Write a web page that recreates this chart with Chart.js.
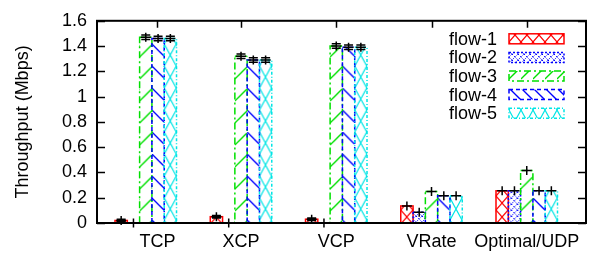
<!DOCTYPE html>
<html>
<head>
<meta charset="utf-8">
<script src="https://cdn.jsdelivr.net/npm/chart.js@4.4.0/dist/chart.umd.min.js"></script>
<style>
  html, body { margin: 0; padding: 0; background: #fff; }
</style>
</head>
<body>
<canvas id="throughputChart" width="589" height="253"></canvas>
<script>
const categories = ['TCP', 'XCP', 'VCP', 'VRate', 'Optimal/UDP'];
const flowNames = ['flow-1', 'flow-2', 'flow-3', 'flow-4', 'flow-5'];

// throughput in Mbps, one array per flow
const flow1 = [0.02, 0.05, 0.03, 0.135, 0.255];
const flow2 = [0, 0, 0, 0.085, 0.255];
const flow3 = [1.47, 1.32, 1.40, 0.25, 0.415];
const flow4 = [1.46, 1.29, 1.39, 0.215, 0.255];
const flow5 = [1.46, 1.29, 1.39, 0.215, 0.255];

// half width of the error bars
const err1 = [0.01, 0.01, 0.01, 0, 0];
const err2 = [0, 0, 0, 0, 0];
const err3 = [0.018, 0.018, 0.018, 0, 0];
const err4 = [0.018, 0.018, 0.018, 0, 0];
const err5 = [0.018, 0.018, 0.018, 0, 0];

const yTicks = [0, 0.2, 0.4, 0.6, 0.8, 1, 1.2, 1.4, 1.6];
const yTickLabels = ['0', '0.2', '0.4', '0.6', '0.8', '1', '1.2', '1.4', '1.6'];

const flows = [flow1, flow2, flow3, flow4, flow5];
const errors = [err1, err2, err3, err4, err5];

const colors = ['#ff0000', '#0000ff', '#00e000', '#0000ff', '#00e5e5'];
const dashes = [[], [2, 2], [7, 3, 2, 3], [4, 3], [3, 2, 1, 2]];
const BAR_W = 12.3;
const FAMILY = "'Liberation Sans', Arial, sans-serif";
const FONT = "18px " + FAMILY;

// gnuplot-like fill patterns
function makeTile(i) {
    const c = document.createElement('canvas');
    const g = c.getContext('2d');
    if (i === 0) {
        c.width = 12; c.height = 14;
        g.strokeStyle = colors[i]; g.lineWidth = 1.2;
        g.beginPath();
        g.moveTo(0, 0); g.lineTo(12, 14);
        g.moveTo(12, 0); g.lineTo(0, 14);
        g.stroke();
    } else if (i === 1) {
        c.width = 6; c.height = 6;
        g.strokeStyle = colors[i]; g.lineWidth = 1;
        g.setLineDash([1.5, 1.5]);
        g.beginPath();
        g.moveTo(3, 0); g.lineTo(6, 3); g.lineTo(3, 6); g.lineTo(0, 3); g.closePath();
        g.stroke();
    } else if (i === 2) {
        c.width = 12; c.height = 22;
        g.strokeStyle = colors[i]; g.lineWidth = 1.3;
        g.beginPath();
        g.moveTo(0, 13); g.lineTo(12, 1);
        g.stroke();
    } else if (i === 3) {
        c.width = 12; c.height = 22;
        g.strokeStyle = colors[i]; g.lineWidth = 1.3;
        g.beginPath();
        g.moveTo(0, 0); g.lineTo(12, 12);
        g.stroke();
    } else {
        c.width = 12; c.height = 22;
        g.strokeStyle = colors[i]; g.lineWidth = 1.2;
        g.beginPath();
        g.moveTo(0, 0); g.lineTo(12, 22);
        g.moveTo(12, 0); g.lineTo(0, 22);
        g.stroke();
    }
    return c;
}
const tiles = flows.map((f, i) => makeTile(i));
const patCtx = document.createElement('canvas').getContext('2d');

function patternAt(i, left) {
    const p = patCtx.createPattern(tiles[i], 'repeat');
    p.setTransform(new DOMMatrix().translate(left, 0));
    return p;
}

function barFill(i) {
    return function (c) {
        if (c.type !== 'data' || !c.chart.scales.x) return patternAt(i, 0);
        const left = c.chart.scales.x.getPixelForValue(c.dataIndex) + (i - 2.5) * BAR_W;
        return patternAt(i, left);
    };
}

const decor = {
    id: 'decor',
    afterDatasetsDraw(chart) {
        const ctx = chart.ctx;
        const ys = chart.scales.y;
        ctx.save();
        // dashed outlines
        chart.data.datasets.forEach((ds, i) => {
            const meta = chart.getDatasetMeta(i);
            meta.data.forEach((bar) => {
                const p = bar.getProps(['x', 'y', 'base', 'width'], true);
                if (Math.abs(p.base - p.y) < 0.5) return;
                ctx.strokeStyle = colors[i];
                ctx.lineWidth = 1.5;
                ctx.setLineDash(dashes[i]);
                ctx.strokeRect(p.x - p.width / 2, p.y, p.width, p.base - p.y);
            });
        });
        ctx.setLineDash([]);
        // error bars
        ctx.strokeStyle = '#000';
        ctx.lineWidth = 1.5;
        chart.data.datasets.forEach((ds, i) => {
            const meta = chart.getDatasetMeta(i);
            meta.data.forEach((bar, j) => {
                const v = flows[i][j];
                const e = errors[i][j];
                const x = bar.x;
                const yc = ys.getPixelForValue(v);
                const yt = ys.getPixelForValue(v + e);
                const yb = ys.getPixelForValue(v - e);
                ctx.beginPath();
                ctx.moveTo(x, Math.min(yt, yc - 4.5));
                ctx.lineTo(x, Math.max(yb, yc + 4.5));
                ctx.moveTo(x - 5, yc); ctx.lineTo(x + 5, yc);
                if (e > 0) {
                    ctx.moveTo(x - 4.5, yt); ctx.lineTo(x + 4.5, yt);
                    ctx.moveTo(x - 4.5, yb); ctx.lineTo(x + 4.5, yb);
                }
                ctx.stroke();
            });
        });
        ctx.restore();
    },
    afterDraw(chart) {
        const ctx = chart.ctx;
        const a = chart.chartArea;
        const ys = chart.scales.y;
        const xs = chart.scales.x;
        ctx.save();
        ctx.strokeStyle = '#000';
        ctx.lineWidth = 1.5;
        ctx.beginPath();
        ys.ticks.forEach(t => {
            const y = Math.round(ys.getPixelForValue(t.value)) + 0.5;
            ctx.moveTo(a.left, y); ctx.lineTo(a.left + 8, y);
            ctx.moveTo(a.right, y); ctx.lineTo(a.right - 8, y);
        });
        xs.ticks.forEach(t => {
            const x = Math.round(xs.getPixelForValue(t.value)) + 0.5;
            ctx.moveTo(x, a.top); ctx.lineTo(x, a.top + 7);
        });
        ctx.stroke();
        ctx.lineWidth = 2;
        ctx.strokeRect(a.left, a.top, a.right - a.left, a.bottom - a.top);

        // key box, top right
        ctx.font = FONT;
        ctx.textAlign = 'right';
        ctx.textBaseline = 'middle';
        ctx.fillStyle = '#000';
        flowNames.forEach((name, i) => {
            const yc = a.top + 18 + i * 18.6;
            ctx.fillText(name, a.right - 89, yc + 1);
            const sx = a.right - 77, sw = 55, sh = 10;
            ctx.fillStyle = patternAt(i, sx);
            ctx.fillRect(sx, yc - sh / 2, sw, sh);
            ctx.strokeStyle = colors[i];
            ctx.lineWidth = 1.5;
            ctx.setLineDash(dashes[i]);
            ctx.strokeRect(sx, yc - sh / 2, sw, sh);
            ctx.setLineDash([]);
            ctx.fillStyle = '#000';
        });
        ctx.restore();
    }
};

const ctx = document.getElementById('throughputChart').getContext('2d');
const myChart = new Chart(ctx, {
    type: 'bar',
    data: {
        datasets: flows.map((vals, i) => ({
            label: flowNames[i],
            data: vals.map((v, j) => ({ x: j, y: v })),
            backgroundColor: barFill(i),
            borderWidth: 0,
            barThickness: BAR_W
        }))
    },
    options: {
        responsive: false,
        animation: false,
        devicePixelRatio: 1,
        layout: { padding: { left: 0, right: 3, top: 14, bottom: 0 } },
        scales: {
            x: {
                type: 'linear',
                min: -0.512,
                max: 4.622,
                offset: false,
                grid: { display: false, drawTicks: false },
                border: { display: false },
                afterBuildTicks: (s) => { s.ticks = [0.123, 1, 2, 3, 4].map(v => ({ value: v })); },
                afterFit: (s) => { s.height = 30; },
                ticks: {
                    autoSkip: false,
                    maxRotation: 0,
                    minRotation: 0,
                    padding: 8,
                    color: '#000',
                    font: { family: FAMILY, size: 18 },
                    callback: (v, i) => categories[i]
                }
            },
            y: {
                min: 0,
                max: 1.6,
                grid: { display: false, drawTicks: false },
                border: { display: false },
                afterBuildTicks: (s) => { s.ticks = yTicks.map(v => ({ value: v })); },
                afterFit: (s) => { s.width = 97; },
                ticks: {
                    padding: 10,
                    color: '#000',
                    font: { family: FAMILY, size: 18 },
                    callback: (v, i) => yTickLabels[i]
                },
                title: {
                    display: true,
                    text: 'Throughput (Mbps)',
                    color: '#000',
                    font: { family: FAMILY, size: 18 },
                    padding: { top: 12, bottom: 0 }
                }
            }
        },
        plugins: {
            legend: { display: false },
            tooltip: { enabled: false }
        }
    },
    plugins: [decor]
});
</script>
</body>
</html>
